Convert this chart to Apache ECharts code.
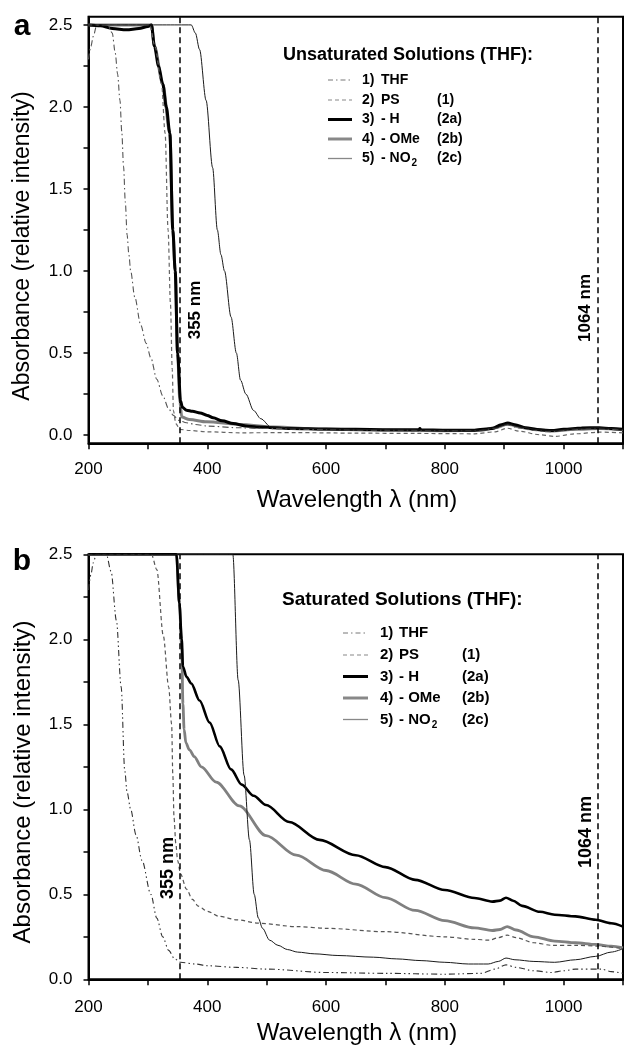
<!DOCTYPE html>
<html><head><meta charset="utf-8">
<script src="https://cdn.jsdelivr.net/npm/echarts@6/dist/echarts.min.js"></script>
<style>html,body{margin:0;padding:0;background:#fff}#c{width:624px;height:1045px}</style>
</head><body><div id="c"></div>
<script>
// ---------- DATA (wavelength nm, absorbance) ----------
const xLabels = [200, 400, 600, 800, 1000];
const xTicks = [200, 300, 400, 500, 600, 700, 800, 900, 1000, 1100];
const yLabels = [0, 0.5, 1.0, 1.5, 2.0, 2.5];
const yTicks = [0, 0.25, 0.5, 0.75, 1.0, 1.25, 1.5, 1.75, 2.0, 2.25, 2.5];
const markerLines = [353, 1057];
const markerTexts = ['355 nm', '1064 nm'];

const legendNums = ['1)', '2)', '3)', '4)', '5)'];
const legendNames = ['THF', 'PS', '- H', '- OMe', '- NO'];
const legendComp = ['', '(1)', '(2a)', '(2b)', '(2c)'];
const titleA = 'Unsaturated Solutions (THF):';
const titleB = 'Saturated Solutions (THF):';

// panel a (unsaturated)
const aTHF = [[200,2.29],[204,2.37],[208,2.43],[214,2.5],[232,2.5],[240,2.45],[245,2.33],[249,2.2],[253,2.04],[256,1.85],[259,1.64],[262,1.42],[265,1.22],[268,1.1],[271,1.0],[278,0.84],[288,0.67],[297,0.56],[305,0.47],[315,0.34],[325,0.24],[335,0.16],[343,0.12],[352,0.09],[365,0.075],[380,0.065],[400,0.055],[450,0.045],[500,0.04],[600,0.033],[700,0.03],[800,0.027],[860,0.028],[885,0.042],[905,0.062],[925,0.043],[950,0.028],[975,0.02],[1000,0.028],[1040,0.038],[1070,0.036],[1100,0.03]];
const aPS = [[200,2.5],[303,2.5],[312,2.37],[323,2.14],[329,1.84],[334,1.25],[338,0.8],[341,0.4],[343,0.15],[347,0.07],[354,0.035],[370,0.028],[400,0.02],[455,0.014],[550,0.015],[650,0.012],[750,0.01],[850,0.008],[885,0.02],[905,0.042],[925,0.024],[960,0.002],[985,-0.008],[1020,0.008],[1060,0.018],[1100,0.014]];
const aH = [[200,2.5],[220,2.495],[240,2.478],[264,2.47],[285,2.478],[300,2.49],[306,2.5],[311,2.37],[318,2.25],[325,2.14],[331,2.0],[337,1.84],[342,1.25],[346,1.0],[350,0.5],[355,0.21],[358,0.17],[365,0.152],[375,0.145],[388,0.135],[400,0.12],[410,0.105],[425,0.087],[444,0.07],[465,0.056],[483,0.05],[510,0.045],[540,0.04],[600,0.037],[650,0.035],[700,0.033],[756,0.032],[758,0.04],[760,0.032],[800,0.03],[850,0.03],[880,0.04],[895,0.063],[906,0.074],[918,0.063],[935,0.045],[960,0.032],[980,0.028],[1000,0.035],[1030,0.044],[1060,0.045],[1080,0.04],[1100,0.035]];
const aOMe = [[200,2.5],[306,2.5],[311,2.37],[325,2.14],[337,1.84],[342,1.25],[346,1.0],[350,0.5],[354,0.2],[357,0.11],[370,0.095],[399,0.081],[455,0.065],[511,0.05],[600,0.035],[700,0.03],[800,0.027],[860,0.028],[885,0.045],[906,0.068],[925,0.05],[950,0.035],[980,0.025],[1020,0.035],[1060,0.04],[1100,0.032]];
const aNO2 = [[200,2.5],[373,2.5],[380,2.45],[387,2.35],[398,2.04],[409,1.63],[417,1.25],[423,1.1],[429,1.0],[440,0.72],[449,0.5],[456,0.335],[465,0.25],[478,0.15],[490,0.1],[507,0.05],[540,0.043],[600,0.038],[700,0.032],[800,0.03],[860,0.03],[885,0.045],[906,0.068],[925,0.05],[960,0.032],[985,0.028],[1020,0.04],[1060,0.045],[1100,0.035]];

// panel b (saturated)
const bTHF = [[200,2.29],[204,2.38],[208,2.45],[213,2.5],[230,2.5],[238,2.4],[247,2.11],[255,1.72],[261,1.23],[265,1.1],[271,1.0],[280,0.85],[290,0.7],[305,0.5],[315,0.36],[325,0.25],[335,0.17],[345,0.12],[355,0.1],[380,0.09],[400,0.08],[450,0.07],[500,0.06],[600,0.04],[700,0.035],[800,0.03],[860,0.035],[885,0.06],[903,0.085],[920,0.07],[950,0.05],[980,0.04],[1000,0.05],[1020,0.06],[1064,0.06],[1080,0.045],[1100,0.035]];
const bPS = [[200,2.5],[306,2.5],[315,2.41],[326,2.02],[335,1.72],[340,1.5],[342,1.2],[344,0.95],[347,0.8],[350,0.7],[355,0.62],[365,0.53],[375,0.47],[385,0.43],[400,0.4],[420,0.37],[450,0.35],[486,0.33],[550,0.31],[600,0.3],[700,0.28],[800,0.25],[850,0.235],[875,0.23],[890,0.245],[905,0.26],[920,0.245],[950,0.215],[980,0.2],[1020,0.2],[1060,0.195],[1100,0.18]];
const bH = [[200,2.5],[348,2.5],[353,2.21],[357,2.0],[359,1.84],[365,1.78],[373,1.74],[387,1.64],[404,1.51],[421,1.37],[440,1.235],[458,1.145],[478,1.08],[499,1.025],[538,0.925],[589,0.82],[650,0.73],[700,0.66],[750,0.585],[800,0.525],[850,0.478],[880,0.457],[893,0.463],[903,0.48],[915,0.462],[930,0.432],[960,0.397],[985,0.38],[1020,0.37],[1054,0.35],[1080,0.33],[1100,0.31]];
const bOMe = [[200,2.5],[348,2.5],[353,2.21],[357,1.95],[359,1.62],[361,1.47],[364,1.39],[370,1.35],[378,1.31],[390,1.25],[415,1.16],[454,1.02],[499,0.845],[550,0.73],[600,0.64],[650,0.56],[700,0.48],[750,0.405],[800,0.345],[850,0.302],[880,0.287],[893,0.293],[905,0.31],[920,0.29],[950,0.25],[985,0.225],[1020,0.215],[1054,0.205],[1080,0.195],[1100,0.185]];
const bNO2 = [[200,2.5],[443,2.5],[452,1.76],[462,1.2],[471,0.82],[479,0.5],[486,0.36],[493,0.3],[505,0.23],[519,0.2],[535,0.175],[552,0.16],[580,0.15],[620,0.14],[680,0.13],[719,0.12],[760,0.11],[800,0.1],[840,0.09],[873,0.09],[890,0.105],[903,0.125],[918,0.115],[950,0.105],[985,0.1],[1020,0.115],[1054,0.135],[1080,0.16],[1100,0.18]];

// ---------- STYLE ----------
const FONT = '"Liberation Sans", Arial, Helvetica, sans-serif';
const styles = [
  {color:'#555', width:1.1, type:[6,3,1.5,3]},      // THF
  {color:'#666', width:1.2, type:[4,3]},            // PS
  {color:'#000', width:3},                          // H
  {color:'#808080', width:3},                       // OMe
  {color:'#1a1a1a', width:1}                        // NO2
];
const stylesB = [
  {color:'#333', width:1.1, type:[6,3,1.5,3,1.5,3]},
  {color:'#555', width:1.2, type:[4,3]},
  {color:'#000', width:2.6},
  {color:'#808080', width:2.8},
  {color:'#1a1a1a', width:1}
];
const legendSampleA = [
  {stroke:'#777', lineWidth:1, lineDash:[5,3,1.5,3]},
  {stroke:'#888', lineWidth:1.2, lineDash:[4,3]},
  {stroke:'#000', lineWidth:3},
  {stroke:'#888', lineWidth:3},
  {stroke:'#888', lineWidth:1.3}
];

const ctx = document.createElement('canvas').getContext('2d');
function tw(t, font){ ctx.font = font; return ctx.measureText(t).width; }

function mkSeries(name, data, gi, st, z, mark) {
  const s = {
    type:'line', name, data, xAxisIndex:gi, yAxisIndex:gi,
    showSymbol:false, symbol:'none', smooth:0.3, smoothMonotone:'x',
    lineStyle:{color:st.color, width:st.width, type:st.type || 'solid'},
    z, silent:true, animation:false
  };
  if (mark) {
    s.markLine = {
      silent:true, symbol:['none','none'], label:{show:false},
      lineStyle:{type:[6,4], color:'#000', width:1.5},
      data: markerLines.map(v => ({xAxis:v}))
    };
  }
  return s;
}

function xAx(gi, margin) {
  return {
    gridIndex:gi, type:'value', min:200, max:1100, interval:100,
    splitLine:{show:false},
    axisLine:{show:true, onZero:false, lineStyle:{color:'#000', width:2}},
    axisTick:{show:true, length:6, customValues:xTicks, lineStyle:{color:'#000', width:1.5}},
    axisLabel:{customValues:xLabels, color:'#000', fontSize:17, fontFamily:FONT, margin,
      formatter: v => xLabels.indexOf(v) >= 0 ? String(v) : ''}
  };
}
function yAx(gi, min, max, extra) {
  return Object.assign({
    gridIndex:gi, type:'value', min, max,
    splitLine:{show:false},
    axisLine:{show:true, onZero:false, lineStyle:{color:'#000', width:2}},
    axisTick:{show:true, length:5, customValues:yTicks, lineStyle:{color:'#000', width:1.5}},
    axisLabel:{customValues:yLabels, color:'#000', fontSize:17, fontFamily:FONT, margin:16,
      formatter: v => v.toFixed(1)}
  }, extra || {});
}

function legendGraphics(o) {
  const els = [];
  els.push({type:'text', x:o.titleX, y:o.titleY, style:{text:o.title, font:'bold '+o.titleSize+'px '+FONT, fill:'#000', textAlign:'left', textVerticalAlign:'middle', align:'left', verticalAlign:'middle'}});
  const f = 'bold '+o.fs+'px '+FONT;
  o.rows.forEach((y, i) => {
    els.push({type:'line', shape:{x1:o.sx0, y1:y, x2:o.sx1, y2:y}, style:Object.assign({}, legendSampleA[i])});
    els.push({type:'text', x:o.numX, y, style:{text:legendNums[i], font:f, fill:'#000', textAlign:'left', textVerticalAlign:'middle', align:'left', verticalAlign:'middle'}});
    els.push({type:'text', x:o.nameX, y, style:{text:legendNames[i], font:f, fill:'#000', textAlign:'left', textVerticalAlign:'middle', align:'left', verticalAlign:'middle'}});
    if (i === 4) {
      const w = tw(legendNames[i], f);
      els.push({type:'text', x:o.nameX + w + 1, y:y + o.fs*0.35, style:{text:'2', font:'bold '+Math.round(o.fs*0.68)+'px '+FONT, fill:'#000', textAlign:'left', textVerticalAlign:'middle', align:'left', verticalAlign:'middle'}});
    }
    if (legendComp[i]) {
      els.push({type:'text', x:o.compX, y, style:{text:legendComp[i], font:f, fill:'#000', textAlign:'left', textVerticalAlign:'middle', align:'left', verticalAlign:'middle'}});
    }
  });
  return els;
}

function txt(text, x, y, font, rot) {
  return {type:'text', x, y, rotation: rot || 0, style:{text, font, fill:'#000', textAlign:'center', textVerticalAlign:'middle', align:'center', verticalAlign:'middle'}};
}

const chart = echarts.init(document.getElementById('c'), null, {renderer:'canvas', width:624, height:1045});
const R = Math.PI/2;
const graphics = []
  .concat(legendGraphics({title:titleA, titleX:283, titleY:55, titleSize:18, fs:14, rows:[80,100,119.5,139,158.5], sx0:328, sx1:352, numX:362, nameX:381, compX:437}))
  .concat(legendGraphics({title:titleB, titleX:282, titleY:600, titleSize:19, fs:15, rows:[633,655,676.5,698,719.5], sx0:343, sx1:368, numX:380, nameX:399, compX:462}))
  .concat([
    txt('a', 22, 27, 'bold 30px '+FONT),
    txt('b', 22, 562, 'bold 30px '+FONT),
    txt('Absorbance (relative intensity)', 23, 246, '23px '+FONT, R),
    txt('Absorbance (relative intensity)', 23, 782, '24px '+FONT, R),
    txt('Wavelength \u03bb (nm)', 357, 500, '24px '+FONT),
    txt('Wavelength \u03bb (nm)', 357, 1033, '24px '+FONT),
    txt(markerTexts[0], 195, 310, 'bold 17px '+FONT, R),
    txt(markerTexts[1], 585, 308, 'bold 17px '+FONT, R),
    txt(markerTexts[0], 168, 868, 'bold 18px '+FONT, R),
    txt(markerTexts[1], 586, 832, 'bold 18px '+FONT, R)
  ]);

chart.setOption({
  animation:false,
  backgroundColor:'#fff',
  grid:[
    {left:88.5, top:16.7, width:534.5, height:426.6, show:true, borderColor:'#000', borderWidth:2, backgroundColor:'transparent'},
    {left:88.5, top:554.3, width:534.5, height:425, show:true, borderColor:'#000', borderWidth:2, backgroundColor:'transparent'}
  ],
  xAxis:[xAx(0, 18), xAx(1, 20)],
  yAxis:[yAx(0, -0.05, 2.55), yAx(1, 0, 2.5, {interval:0.25})],
  series:[
    mkSeries('OMe a', aOMe, 0, styles[3], 2, true),
    mkSeries('H a', aH, 0, styles[2], 3),
    mkSeries('PS a', aPS, 0, styles[1], 4),
    mkSeries('THF a', aTHF, 0, styles[0], 4),
    mkSeries('NO2 a', aNO2, 0, styles[4], 5),
    mkSeries('OMe b', bOMe, 1, stylesB[3], 2, true),
    mkSeries('H b', bH, 1, stylesB[2], 3),
    mkSeries('PS b', bPS, 1, stylesB[1], 4),
    mkSeries('THF b', bTHF, 1, stylesB[0], 4),
    mkSeries('NO2 b', bNO2, 1, stylesB[4], 5)
  ],
  graphic: graphics
});
</script></body></html>
